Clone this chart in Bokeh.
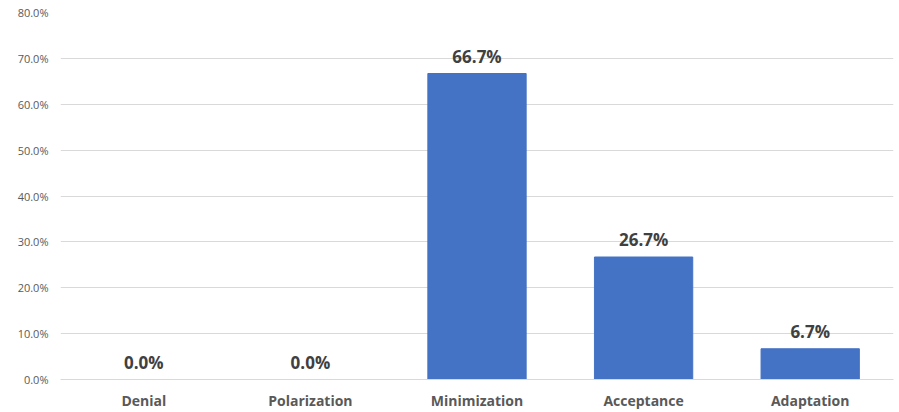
from bokeh.plotting import figure
from bokeh.models import ColumnDataSource, PrintfTickFormatter, FixedTicker, Range1d
from bokeh.core.properties import value
from bokeh.embed import file_html
from bokeh.resources import INLINE

categories = ["Denial", "Polarization", "Minimization", "Acceptance", "Adaptation"]
percentages = [0.0, 0.0, 66.7, 26.7, 6.7]
labels = ["0.0%", "0.0%", "66.7%", "26.7%", "6.7%"]
y_ticks = [0, 10, 20, 30, 40, 50, 60, 70, 80]

src = ColumnDataSource(dict(cat=categories, val=percentages, lab=labels))

p = figure(x_range=categories, y_range=Range1d(0, 80), width=899, height=412,
           output_backend="svg", toolbar_location=None,
           min_border_left=60, min_border_right=6, min_border_top=12, min_border_bottom=0)
p.outline_line_color = None
p.background_fill_color = "white"
p.border_fill_color = "white"

p.vbar(x="cat", top="val", width=0.59, source=src, color="#4472C4")
p.text(x="cat", y="val", text="lab", source=src, text_align="center", text_baseline="bottom",
       y_offset=-6, text_font=value("Open Sans"), text_font_size="17px",
       text_font_style="bold", text_color="#404040")

p.xgrid.grid_line_color = None
p.ygrid.grid_line_color = "#D9D9D9"
p.ygrid.grid_line_width = 1
p.yaxis.ticker = FixedTicker(ticks=y_ticks)
p.yaxis.formatter = PrintfTickFormatter(format="%.1f%%")
p.yaxis.axis_line_color = None
p.yaxis.major_tick_line_color = None
p.yaxis.minor_tick_line_color = None
p.yaxis.major_tick_out = 0
p.yaxis.major_tick_in = 0
p.yaxis.major_label_text_font = "Open Sans"
p.yaxis.major_label_text_font_size = "11px"
p.yaxis.major_label_text_color = "#595959"
p.yaxis.major_label_standoff = 12

p.xaxis.axis_line_color = "#D9D9D9"
p.xaxis.major_tick_line_color = None
p.xaxis.major_tick_out = 0
p.xaxis.major_tick_in = 0
p.xaxis.major_label_text_font = "Open Sans"
p.xaxis.major_label_text_font_size = "14px"
p.xaxis.major_label_text_font_style = "bold"
p.xaxis.major_label_text_color = "#595959"
p.xaxis.major_label_standoff = 11
p.x_range.range_padding = 0

open("out.html", "w").write(file_html(p, INLINE))
